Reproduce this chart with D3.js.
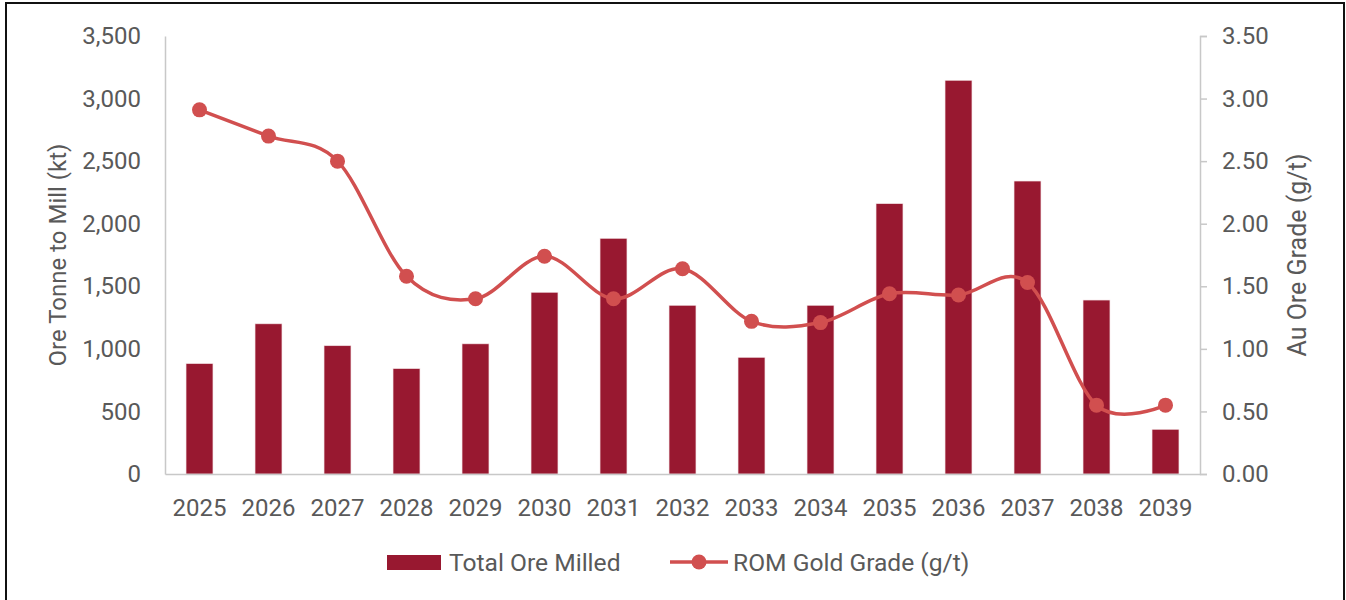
<!DOCTYPE html>
<html>
<head>
<meta charset="utf-8">
<script src="https://cdn.jsdelivr.net/npm/d3@7"></script>
<style>
  html, body { margin: 0; padding: 0; background: #fff; }
  svg { display: block; font-family: Roboto, "Open Sans", sans-serif; }
</style>
</head>
<body>
<svg id="chart" width="1346" height="600"></svg>
<script>
// Annual mill feed and run-of-mine grade
const years = ["2025","2026","2027","2028","2029","2030","2031","2032","2033","2034","2035","2036","2037","2038","2039"];
const oreMilled = [882, 1200, 1025, 842, 1040, 1452, 1883, 1348, 932, 1348, 2160, 3146, 2341, 1390, 357];
const goldGrade = [2.91, 2.70, 2.50, 1.58, 1.40, 1.74, 1.40, 1.64, 1.22, 1.21, 1.44, 1.43, 1.53, 0.55, 0.55];
const leftTicks = [0, 500, 1000, 1500, 2000, 2500, 3000, 3500];
const rightTicks = [0, 0.5, 1.0, 1.5, 2.0, 2.5, 3.0, 3.5];

const barColor = "#981830";
const lineColor = "#d14f4f";
const textColor = "#595959";
const axisColor = "#c8c8c8";

const svg = d3.select("#chart");
const plot = { left: 165, right: 1200, top: 36, bottom: 474 };

// frame around the whole figure
svg.append("rect")
  .attr("x", 6).attr("y", 3)
  .attr("width", 1338).attr("height", 610)
  .attr("fill", "#fff").attr("stroke", "#111").attr("stroke-width", 2);

const x = d3.scaleBand().domain(years)
  .range([plot.left, plot.right])
  .paddingInner(0.61).paddingOuter(0.305);
const yL = d3.scaleLinear().domain([0, 3500]).range([plot.bottom, plot.top]);
const yR = d3.scaleLinear().domain([0, 3.5]).range([plot.bottom, plot.top]);

// bars
svg.append("g").selectAll("rect").data(years).join("rect")
  .attr("x", d => x(d))
  .attr("width", x.bandwidth())
  .attr("y", (d, i) => yL(oreMilled[i]))
  .attr("height", (d, i) => plot.bottom - yL(oreMilled[i]))
  .attr("fill", barColor)
  .attr("stroke", "#f2dfe2").attr("stroke-width", 0.6);

// left axis
const axL = svg.append("g").attr("transform", `translate(${plot.left},0)`)
  .call(d3.axisLeft(yL).tickValues(leftTicks).tickSize(0).tickPadding(24)
    .tickFormat(d3.format(",")));
axL.select(".domain").attr("stroke", axisColor).attr("stroke-width", 1.5);
axL.selectAll("text").attr("fill", textColor).attr("font-size", 24)
  .attr("font-family", "Roboto");

// right axis
const axR = svg.append("g").attr("transform", `translate(${plot.right},0)`)
  .call(d3.axisRight(yR).tickValues(rightTicks).tickSize(7).tickPadding(15)
    .tickFormat(d3.format(".2f")));
axR.select(".domain").attr("stroke", axisColor).attr("stroke-width", 1.5);
axR.selectAll("line").attr("stroke", axisColor).attr("stroke-width", 1.5);
axR.selectAll("text").attr("fill", textColor).attr("font-size", 24)
  .attr("font-family", "Roboto");

// bottom axis
const axB = svg.append("g").attr("transform", `translate(0,${plot.bottom})`)
  .call(d3.axisBottom(x).tickSize(0).tickPadding(25));
axB.select(".domain").attr("stroke", axisColor).attr("stroke-width", 1.5);
axB.selectAll("text").attr("fill", textColor).attr("font-size", 24)
  .attr("font-family", "Roboto");

// grade line
const cx = d => x(d) + x.bandwidth() / 2;
const line = d3.line()
  .x(d => cx(d))
  .y((d, i) => yR(goldGrade[i]))
  .curve(d3.curveCardinal.tension(0));
svg.append("path").datum(years)
  .attr("d", line)
  .attr("fill", "none")
  .attr("stroke", lineColor).attr("stroke-width", 3.5);
svg.append("g").selectAll("circle").data(years).join("circle")
  .attr("cx", d => cx(d))
  .attr("cy", (d, i) => yR(goldGrade[i]))
  .attr("r", 7.5)
  .attr("fill", lineColor);

// axis titles
svg.append("text")
  .attr("transform", `translate(58,${(plot.top + plot.bottom) / 2}) rotate(-90)`)
  .attr("text-anchor", "middle").attr("dy", "0.35em")
  .attr("fill", textColor).attr("font-size", 24)
  .text("Ore Tonne to Mill (kt)");
svg.append("text")
  .attr("transform", `translate(1297,${(plot.top + plot.bottom) / 2}) rotate(-90)`)
  .attr("text-anchor", "middle").attr("dy", "0.35em")
  .attr("fill", textColor).attr("font-size", 25)
  .text("Au Ore Grade (g/t)");

// legend
const lg = svg.append("g");
lg.append("rect").attr("x", 387).attr("y", 555).attr("width", 54).attr("height", 15)
  .attr("fill", barColor);
lg.append("text").attr("x", 449).attr("y", 562).attr("dy", "0.35em")
  .attr("fill", textColor).attr("font-size", 24.6).text("Total Ore Milled");
lg.append("line").attr("x1", 670).attr("x2", 728).attr("y1", 562).attr("y2", 562)
  .attr("stroke", lineColor).attr("stroke-width", 3.5);
lg.append("circle").attr("cx", 699).attr("cy", 562).attr("r", 7.5).attr("fill", lineColor);
lg.append("text").attr("x", 733).attr("y", 562).attr("dy", "0.35em")
  .attr("fill", textColor).attr("font-size", 24.6).text("ROM Gold Grade (g/t)");
</script>
</body>
</html>
